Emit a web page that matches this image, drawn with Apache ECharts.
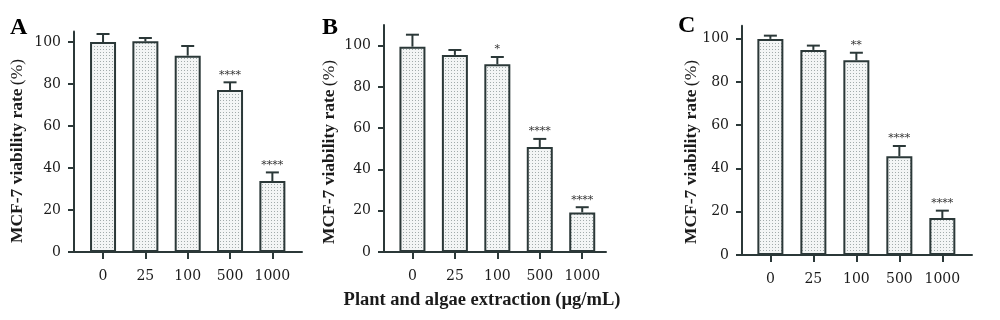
<!DOCTYPE html>
<html>
<head>
<meta charset="utf-8">
<script src="https://cdn.jsdelivr.net/npm/echarts@6/dist/echarts.min.js"></script>
<style>
html,body{margin:0;padding:0;background:#fff;}
#c{width:1000px;height:320px;}
</style>
</head>
<body>
<div id="c"></div>
<script>
// ---- data ----
const categories = ['0', '25', '100', '500', '1000'];
const yTicks = [0, 20, 40, 60, 80, 100];
const panelLetters = ['A', 'B', 'C'];
const meansA = [100, 100.3, 93.5, 77.1, 33.8];
const sdA    = [3.8, 1.6, 4.6, 3.7, 4.1];
const starsA = ['', '', '', '****', '****'];
const meansB = [99.5, 95.5, 91.0, 50.9, 19.2];
const sdB    = [5.8, 2.4, 3.5, 3.9, 2.5];
const starsB = ['', '', '*', '****', '****'];
const meansC = [99.9, 94.8, 90.0, 45.6, 17.1];
const sdC    = [1.5, 2.0, 3.5, 4.8, 3.4];
const starsC = ['', '', '**', '****', '****'];
const yAxisTitle = 'MCF-7 viability rate';
const yAxisUnit = '(%)';
const xAxisTitle = 'Plant and algae extraction (µg/mL)';

// ---- layout ----
const panels = [
  {means: meansA, sd: sdA, stars: starsA, left: 74, width: 228, top: 31.5, height: 220.5, ymax: 105, xmin: -0.686, xmax: 4.70, nameX: 17, nameY: 151, letterX: 10, letterY: 16},
  {means: meansB, sd: sdB, stars: starsB, left: 384, width: 222, top: 25, height: 227, ymax: 110, xmin: -0.67, xmax: 4.56, nameX: 329, nameY: 152, letterX: 322, letterY: 16},
  {means: meansC, sd: sdC, stars: starsC, left: 742, width: 230, top: 25.7, height: 229.3, ymax: 106, xmin: -0.66, xmax: 4.69, nameX: 691, nameY: 152, letterX: 678, letterY: 14}
];

const AX = '#2b3838';
const TXT = '#1b1b1b';
const SERIF = '"DejaVu Serif", serif';
const BSERIF = '"Liberation Serif", "DejaVu Serif", serif';

// dotted fill pattern
const pat = document.createElement('canvas');
pat.width = 3; pat.height = 3;
const pc = pat.getContext('2d');
pc.fillStyle = '#f3f5f5'; pc.fillRect(0, 0, 3, 3);
pc.fillStyle = '#a2abab'; pc.fillRect(1, 1, 1, 1);

const grids = [], xAxes = [], yAxes = [], series = [], graphics = [];
panels.forEach((p, k) => {
  grids.push({left: p.left, top: p.top, width: p.width, height: p.height});
  xAxes.push({
    type: 'value', gridIndex: k, min: p.xmin, max: p.xmax,
    axisLine: {show: true, onZero: false, lineStyle: {color: AX, width: 2}},
    splitLine: {show: false},
    axisTick: {show: true, customValues: [0, 1, 2, 3, 4], length: 7, lineStyle: {color: AX, width: 2}},
    axisLabel: {customValues: [0, 1, 2, 3, 4], formatter: v => categories[Math.round(v)], color: TXT, fontFamily: SERIF, fontSize: 14, margin: 17}
  });
  yAxes.push({
    type: 'value', gridIndex: k, min: 0, max: p.ymax, interval: 20,
    axisLine: {show: true, onZero: false, lineStyle: {color: AX, width: 2}},
    splitLine: {show: false},
    axisTick: {show: true, length: 6, lineStyle: {color: AX, width: 2}},
    axisLabel: {showMaxLabel: false, formatter: v => (yTicks.indexOf(v) >= 0 ? String(v) : ''), color: TXT, fontFamily: SERIF, fontSize: 14, margin: 13}
  });
  series.push({
    type: 'bar', xAxisIndex: k, yAxisIndex: k, barWidth: 26,
    data: p.means.map((v, i) => [i, v]),
    itemStyle: {color: {image: pat, repeat: 'repeat'}, borderColor: AX, borderWidth: 2},
    silent: true, animation: false
  });
  series.push({
    type: 'custom', xAxisIndex: k, yAxisIndex: k,
    data: p.means.map((v, i) => [i, v, v + p.sd[i]]),
    animation: false, silent: true, z: 5,
    renderItem: (params, api) => {
      const x = api.value(0);
      const top = api.coord([x, api.value(1)]);
      const hi = api.coord([x, api.value(2)]);
      const cap = 6.5;
      const children = [
        {type: 'line', shape: {x1: top[0], y1: top[1], x2: hi[0], y2: hi[1]}, style: {stroke: AX, lineWidth: 2}},
        {type: 'line', shape: {x1: hi[0] - cap, y1: hi[1], x2: hi[0] + cap, y2: hi[1]}, style: {stroke: AX, lineWidth: 2}}
      ];
      const s = p.stars[params.dataIndex];
      if (s) {
        children.push({type: 'text', style: {text: s, x: hi[0], y: hi[1] - 2, align: 'center', verticalAlign: 'bottom', fontFamily: SERIF, fontSize: 11, fill: '#333'}});
      }
      return {type: 'group', children: children};
    }
  });
  graphics.push({type: 'text', left: p.letterX, top: p.letterY, style: {text: panelLetters[k], fontFamily: BSERIF, fontWeight: 'bold', fontSize: 24, fill: '#000'}});
  graphics.push({
    type: 'text', x: p.nameX, y: p.nameY, rotation: Math.PI / 2,
    style: {
      text: '{b|' + yAxisTitle + '} {r|' + yAxisUnit + '}',
      align: 'center', verticalAlign: 'middle',
      rich: {
        b: {fontFamily: BSERIF, fontWeight: 'bold', fontSize: 17.5, fill: TXT},
        r: {fontFamily: BSERIF, fontWeight: 'normal', fontSize: 17.5, fill: TXT}
      }
    }
  });
});
graphics.push({type: 'text', x: 482, y: 300, style: {text: xAxisTitle, align: 'center', verticalAlign: 'middle', fontFamily: BSERIF, fontWeight: 'bold', fontSize: 18.5, fill: TXT}});

const chart = echarts.init(document.getElementById('c'), null, {renderer: 'canvas'});
chart.setOption({
  animation: false,
  grid: grids, xAxis: xAxes, yAxis: yAxes, series: series, graphic: graphics
});
</script>
</body>
</html>
